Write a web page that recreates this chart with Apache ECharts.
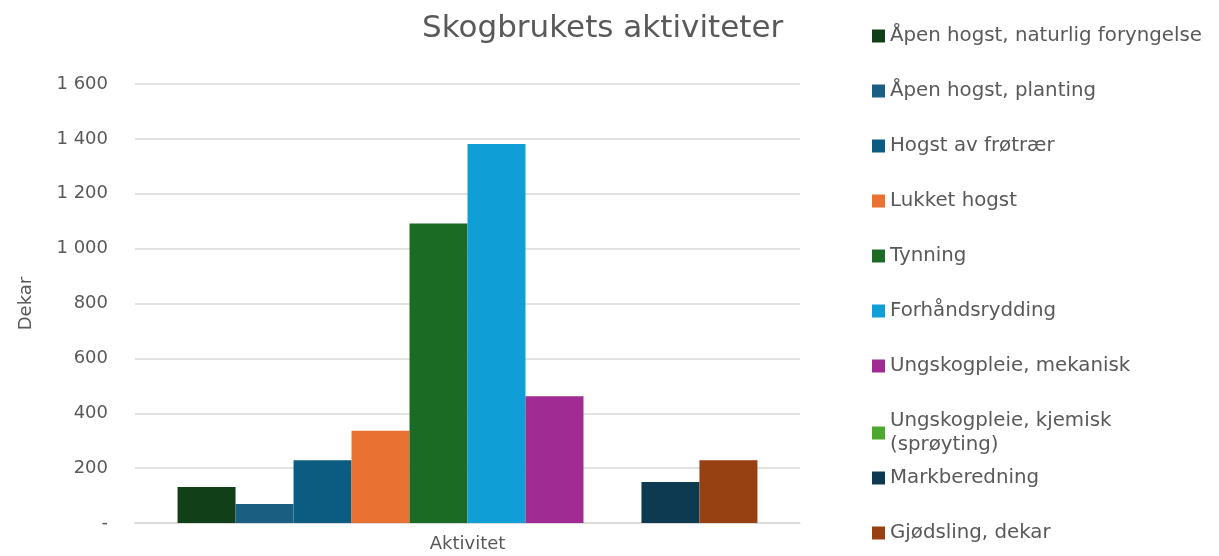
<!doctype html>
<html>
	<head>
		<meta charset="UTF-8">
		<title>Skogbrukets aktiviteter</title>
		<style>
			html, body {
				margin: 0;
				padding: 0;
				background: #ffffff;
			}
			#chart {
				width: 1219px;
				height: 556px;
			}
		</style>
	</head>
	<body>
		<div id="chart"></div>
		<script src="https://cdn.jsdelivr.net/npm/echarts@6/dist/echarts.min.js"></script>
		<script type="text/javascript">
			// data
			var categories = ['Aktivitet'];
			var seriesNames = [
				'Åpen hogst, naturlig foryngelse',
				'Åpen hogst, planting',
				'Hogst av frøtrær',
				'Lukket hogst',
				'Tynning',
				'Forhåndsrydding',
				'Ungskogpleie, mekanisk',
				'Ungskogpleie, kjemisk (sprøyting)',
				'Markberedning',
				'Gjødsling, dekar'
			];
			var seriesValues = [131, 69, 229, 336, 1092, 1381, 462, 0, 149, 229];
			var yTicks = [0, 200, 400, 600, 800, 1000, 1200, 1400, 1600];

			var colors = ['#113F17', '#1A5F82', '#0B5C80', '#E97132', '#1B6B24',
				'#0F9ED5', '#A02B93', '#4EA72E', '#0E3A51', '#974012'];
			var textColor = '#595959';
			var fontFam = '"DejaVu Sans", sans-serif';

			var series = [];
			for (var i = 0; i < seriesNames.length; i++) {
				series.push({
					name: seriesNames[i],
					type: 'bar',
					barGap: 0,
					barCategoryGap: '12.8%',
					itemStyle: { color: colors[i] },
					data: [seriesValues[i]]
				});
			}

			// tick labels: space as thousands separator, dash for zero
			function fmtTick(v) {
				if (v === 0) return '-';
				return String(v).replace(/\B(?=(\d{3})+(?!\d))/g, ' ');
			}

			// wrap the long legend name like the original
			function fmtLegend(name) {
				if (name === 'Ungskogpleie, kjemisk (sprøyting)') {
					return 'Ungskogpleie, kjemisk\n(sprøyting)';
				}
				return name;
			}

			var legendBase = {
				orient: 'vertical',
				left: 867,
				icon: 'rect',
				itemWidth: 13,
				itemHeight: 13,
				itemGap: 31,
				selectedMode: false,
				formatter: fmtLegend,
				textStyle: {
					color: textColor,
					fontSize: 19.8,
					lineHeight: 24,
					fontFamily: fontFam
				}
			};

			var option = {
				animation: false,
				color: colors,
				title: {
					text: 'Skogbrukets aktiviteter',
					left: 417,
					top: 8,
					textStyle: {
						color: textColor,
						fontSize: 31,
						fontWeight: 'normal',
						fontFamily: fontFam
					}
				},
				legend: [
					Object.assign({}, legendBase, {
						top: 19,
						data: seriesNames.slice(0, 8)
					}),
					Object.assign({}, legendBase, {
						top: 461,
						data: seriesNames.slice(8)
					})
				],
				grid: {
					left: 135,
					right: 419,
					top: 84,
					bottom: 33,
					containLabel: false,
					outerBoundsMode: 'none'
				},
				xAxis: {
					type: 'category',
					data: categories,
					axisTick: { show: false },
					axisLine: { lineStyle: { color: '#d9d9d9', width: 1.5 } },
					axisLabel: {
						color: textColor,
						fontSize: 18,
						margin: 12,
						fontFamily: fontFam
					}
				},
				yAxis: {
					type: 'value',
					name: 'Dekar',
					nameLocation: 'middle',
					nameGap: 100,
					nameTextStyle: {
						color: textColor,
						fontSize: 18,
						fontFamily: fontFam
					},
					min: yTicks[0],
					max: yTicks[yTicks.length - 1],
					interval: 200,
					axisLabel: {
						color: textColor,
						fontSize: 18,
						margin: 27,
						fontFamily: fontFam,
						formatter: fmtTick
					},
					splitLine: { lineStyle: { color: '#d9d9d9', width: 1.5 } }
				},
				series: series
			};

			var chart = echarts.init(document.getElementById('chart'));
			chart.setOption(option);
		</script>
	</body>
</html>
